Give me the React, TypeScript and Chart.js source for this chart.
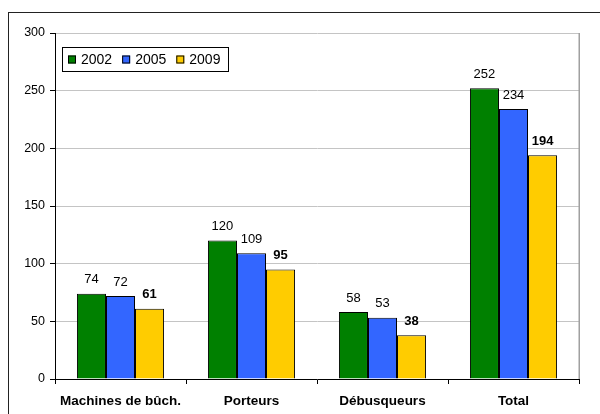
import React, { useEffect, useRef } from "react";
import { Chart, registerables } from "chart.js";

Chart.register(...registerables);

const categories = ["Machines de bûch.", "Porteurs", "Débusqueurs", "Total"];
const seriesNames = ["2002", "2005", "2009"];
const values2002 = [74, 120, 58, 252];
const values2005 = [72, 109, 53, 234];
const values2009 = [61, 95, 38, 194];
const seriesColors = ["#008000", "#3366FF", "#FFCC00"];
const boldLabels = [false, false, true];
const yTicks = [0, 50, 100, 150, 200, 250, 300];

const FONT = "'Liberation Sans', Arial, sans-serif";

// Value labels above each bar
const valueLabels = {
  id: "valueLabels",
  afterDatasetsDraw(chart: any) {
    const ctx = chart.ctx;
    ctx.save();
    ctx.fillStyle = "#000";
    ctx.textAlign = "center";
    ctx.textBaseline = "middle";
    chart.data.datasets.forEach((ds: any, i: number) => {
      const meta = chart.getDatasetMeta(i);
      ctx.font = `${boldLabels[i] ? "bold " : ""}13px ${FONT}`;
      meta.data.forEach((bar: any, j: number) => {
        ctx.fillText(String(ds.data[j]), bar.x, bar.y - 14);
      });
    });
    ctx.restore();
  },
};

// Boxed legend inside the plot area, plus right edge of the plot frame
const boxedLegend = {
  id: "boxedLegend",
  afterDraw(chart: any) {
    const ctx = chart.ctx;
    const area = chart.chartArea;
    ctx.save();
    ctx.strokeStyle = "#a0a0a0";
    ctx.lineWidth = 1.5;
    ctx.beginPath();
    ctx.moveTo(area.right + 0.25, area.top);
    ctx.lineTo(area.right + 0.25, area.bottom);
    ctx.stroke();

    const boxX = area.left + 7;
    const boxY = area.top + 14;
    const boxW = 166;
    const boxH = 24;
    ctx.fillStyle = "#fff";
    ctx.fillRect(boxX, boxY, boxW, boxH);
    ctx.strokeStyle = "#000";
    ctx.lineWidth = 1;
    ctx.strokeRect(boxX + 0.5, boxY + 0.5, boxW, boxH);

    ctx.font = `14px ${FONT}`;
    ctx.textBaseline = "middle";
    ctx.textAlign = "left";
    let x = boxX + 6;
    const cy = boxY + boxH / 2 + 0.5;
    chart.data.datasets.forEach((ds: any) => {
      ctx.fillStyle = ds.backgroundColor;
      ctx.fillRect(x, cy - 4, 8, 8);
      ctx.strokeStyle = "#000";
      ctx.strokeRect(x + 0.5, cy - 3.5, 7, 7);
      ctx.fillStyle = "#000";
      ctx.fillText(ds.label, x + 13, cy + 0.5);
      x += 13 + ctx.measureText(ds.label).width + 10;
    });
    ctx.restore();
  },
};

export default function App() {
  const canvasRef = useRef<HTMLCanvasElement | null>(null);

  useEffect(() => {
    if (!canvasRef.current) return;
    const seriesValues = [values2002, values2005, values2009];
    const chart = new Chart(canvasRef.current, {
      type: "bar",
      data: {
        labels: categories,
        datasets: seriesNames.map((name, i) => ({
          label: name,
          data: seriesValues[i],
          backgroundColor: seriesColors[i],
          borderColor: "#000",
          borderWidth: 1,
          categoryPercentage: 0.665,
          barPercentage: 1.0,
        })),
      },
      options: {
        responsive: false,
        animation: false,
        layout: { padding: { left: 0, top: 33, right: 21, bottom: 0 } },
        plugins: {
          legend: { display: false },
          tooltip: { enabled: false },
        },
        scales: {
          x: {
            grid: {
              offset: true,
              drawOnChartArea: false,
              drawTicks: true,
              tickLength: 5,
              tickColor: "#000",
            },
            border: { color: "#000", width: 1 },
            ticks: {
              color: "#000",
              padding: 9,
              maxRotation: 0,
              font: { family: FONT, size: 13.5, weight: "bold" },
            },
            afterFit(scale: any) {
              scale.height = 35;
            },
          },
          y: {
            min: 0,
            max: 300,
            afterBuildTicks(scale: any) {
              scale.ticks = yTicks.map((v) => ({ value: v }));
            },
            grid: {
              color: "#c4c4c4",
              lineWidth: 1,
              drawTicks: true,
              tickLength: 5,
              tickColor: "#000",
            },
            border: { color: "#000", width: 1 },
            ticks: {
              color: "#000",
              padding: 5,
              font: { family: FONT, size: 12.5 },
            },
            afterFit(scale: any) {
              scale.width = 55;
            },
          },
        },
      },
      plugins: [valueLabels, boxedLegend],
    });
    return () => chart.destroy();
  }, []);

  return (
    <div>
      <div
        style={{
          position: "fixed",
          left: 8,
          top: 12,
          width: 640,
          height: 440,
          border: "1px solid #222",
          boxSizing: "border-box",
          pointerEvents: "none",
        }}
      />
      <canvas
        ref={canvasRef}
        width={600}
        height={414}
        style={{ position: "fixed", left: 0, top: 0, width: 600, height: 414 }}
      />
    </div>
  );
}
